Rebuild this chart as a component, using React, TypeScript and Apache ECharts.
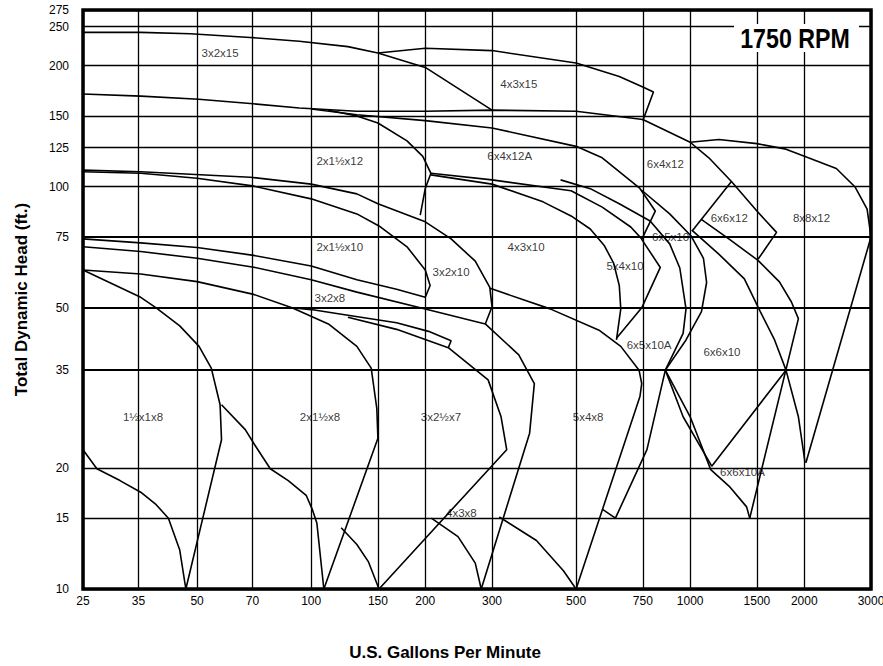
import React, { useEffect, useRef } from "react";
import * as echarts from "echarts";

// Axis ticks (tick labels as printed on the chart)
const X_TICKS = [25, 35, 50, 70, 100, 150, 200, 300, 500, 750, 1000, 1500, 2000, 3000];
const Y_TICKS = [10, 15, 20, 35, 50, 75, 100, 125, 150, 200, 250, 275];
const BOLD_Y = [35, 50, 75];

// Curves: [U.S. gallons per minute, total dynamic head (ft)]
const C_3X2X15 = [[25, 242], [35.5, 242], [48, 240], [69, 235], [93, 230], [125, 223], [150, 215], [200, 198], [300, 155]];
const C_4X3X15 = [[150, 215], [200, 221], [300, 218], [500, 203], [650, 188], [750, 177], [800, 172], [750, 146]];
const C_TOP = [[25, 170], [35.5, 168], [50.5, 165], [69, 161], [93, 157], [132, 154], [200, 154], [300, 155], [500, 154], [750, 147], [1000, 129], [1120, 118], [1285, 103], [1500, 87], [1690, 77], [1510, 66]];
const C_2X15X12_EDGE = [[111, 155], [132, 150], [150, 144], [179, 130], [197, 119], [207, 108], [200, 99], [194, 85]];
const C_6X4X12A = [[100, 156], [132, 151], [200, 146], [300, 140], [500, 126], [586, 118], [737, 99], [809, 87], [745, 74], [834, 63], [745, 50], [639, 42]];
const C_8X8X12_TOP = [[1000, 129], [1190, 131], [1500, 128], [1790, 124], [2050, 118], [2430, 111], [2720, 100], [2930, 88], [3000, 75]];
const C_8X8X12_RIGHT = [[3000, 75], [2020, 20.6]];
const C_8X8X12_LEFT = [[1010, 78], [1190, 68], [1390, 59], [1530, 49], [1670, 41.6], [1790, 35], [1930, 26.8], [2010, 20.6]];
const C_6X6X10_TOP = [[1070, 83], [1270, 74], [1510, 65.6], [1720, 58], [1850, 51.7], [1930, 47], [1436, 15]];
const C_6X6X12_LEFT = [[1285, 103], [1012, 77.6]];
const C_4X3X10_TOP = [[207, 108], [300, 104], [485, 97.7], [586, 89], [697, 79.4], [745, 74.2]];
const C_5X4X10_LEFT = [[207, 107], [300, 101.5], [409, 91.7], [485, 84.6], [545, 78.5], [594, 71.3], [628, 64.6], [650, 56.8], [656, 49.7], [639, 41.6]];
const C_3X2X10_TOP = [[25, 110], [35.5, 109], [69, 105.6], [100, 101.5], [132, 96], [150, 90.7], [200, 81.8], [234, 74.2], [271, 65.3], [296, 56.2], [300, 50.3], [288, 45.6]];
const C_2X15X10_TOP = [[25, 109], [35.5, 108], [50, 105], [70, 100.5], [100, 93.3], [132, 85.6], [151, 79.9], [179, 70.9], [200, 62.1], [206, 56.8], [200, 53.1]];
const C_2X15X10_LOW = [[25, 74.2], [35.5, 72.5], [50, 70.6], [70.5, 67.5], [100, 63.5], [132, 58.7], [168, 55.6], [200, 53.1]];
const C_3X2X10_LOW = [[25, 70.9], [35.5, 69], [50, 66.4], [70.5, 63.1], [100, 58.7], [132, 54.7], [194, 50], [288, 45.6], [353, 38.2], [388, 32.4], [377, 24.4], [281, 10]];
const C_2X15X8_TOP = [[25, 62.1], [35.5, 60.7], [50, 58.1], [70.5, 54], [89, 50], [111, 45.6], [132, 40.1], [144, 35.4], [149, 28.1], [150, 23.7], [108, 10]];
const C_3X2X8 = [[89, 50], [100, 49.5], [125, 47.9], [168, 45.9], [204, 43.7], [234, 41.4], [230, 39.8]];
const C_3X25X7_TOP = [[125, 47.4], [168, 44.2], [230, 39.8], [293, 33.1], [317, 26.8], [328, 22.2], [151, 10]];
const C_3X25X7_LOW = [[120, 14.2], [132, 12.9], [141.5, 11.7], [151, 10]];
const C_2X15X8_LOW = [[58, 28.7], [67, 24.9], [71, 22.8], [78, 19.9], [87, 18.6], [97, 17.1], [100.6, 15.8], [103.5, 14.6], [108, 10]];
const C_15X1X8_TOP = [[25, 62.1], [35.5, 53.1], [39, 50], [45, 45.1], [50.6, 40.1], [54.5, 35.4], [57.5, 28.7], [58, 23.5], [46.7, 10]];
const C_15X1X8_LOW = [[25, 22.2], [27.2, 19.9], [31.3, 18.6], [35.5, 17.4], [39, 16.2], [42, 15], [45, 12.5], [46.7, 10]];
const C_4X3X8_LOW = [[207.5, 15], [244, 13.5], [271, 11.6], [281, 10]];
const C_5X4X8_LOW = [[313.5, 15.1], [393, 13.2], [463, 11.1], [500, 10]];
const C_5X4X8_TOP = [[296.5, 55.9], [427, 49.7], [577, 43.9], [656, 40.1], [733, 35], [745, 32.4], [737, 30.1], [500, 10]];
const C_6X5X10A_BASE = [[586, 15.8], [635, 15]];
const C_6X5X10_RIGHT = [[455, 104], [545, 98.9], [650, 90.7], [784, 82.2], [883, 72.1], [939, 62.8], [975, 49.7], [958, 43.2], [860, 35], [769, 22.2], [635, 15]];
const C_6X6X10_LEFT = [[745, 98], [883, 85.6], [1006, 75.4], [1084, 66.4], [1105, 57.8], [1071, 48.9], [975, 41.6], [860, 35], [958, 26.8], [1140, 20.2], [1790, 35]];
const C_6X6X10A_LEFT = [[860, 35], [1000, 26.8], [1133, 19.8], [1268, 18], [1409, 16], [1436, 15]];

const CURVES: [string, number[][]][] = [
  ["3x2x15", C_3X2X15], ["4x3x15", C_4X3X15], ["top", C_TOP], ["2x1.5x12 edge", C_2X15X12_EDGE],
  ["6x4x12A", C_6X4X12A], ["8x8x12 top", C_8X8X12_TOP], ["8x8x12 right", C_8X8X12_RIGHT],
  ["8x8x12 left", C_8X8X12_LEFT], ["6x6x10 top", C_6X6X10_TOP], ["6x6x12 left", C_6X6X12_LEFT],
  ["4x3x10 top", C_4X3X10_TOP], ["5x4x10 left", C_5X4X10_LEFT], ["3x2x10 top", C_3X2X10_TOP],
  ["2x1.5x10 top", C_2X15X10_TOP], ["2x1.5x10 low", C_2X15X10_LOW], ["3x2x10 low", C_3X2X10_LOW],
  ["2x1.5x8 top", C_2X15X8_TOP], ["3x2x8", C_3X2X8], ["3x2.5x7 top", C_3X25X7_TOP],
  ["3x2.5x7 low", C_3X25X7_LOW], ["2x1.5x8 low", C_2X15X8_LOW], ["1.5x1x8 top", C_15X1X8_TOP],
  ["1.5x1x8 low", C_15X1X8_LOW], ["4x3x8 low", C_4X3X8_LOW], ["5x4x8 low", C_5X4X8_LOW],
  ["5x4x8 top", C_5X4X8_TOP], ["6x5x10A base", C_6X5X10A_BASE], ["6x5x10 right", C_6X5X10_RIGHT],
  ["6x6x10 left", C_6X6X10_LEFT], ["6x6x10A left", C_6X6X10A_LEFT],
];

// Pump size labels
const LABEL_TEXT = ["3x2x15", "4x3x15", "6x4x12A", "6x4x12", "2x1½x12", "6x6x12", "8x8x12", "2x1½x10", "3x2x10", "4x3x10", "5x4x10", "6x5x10", "3x2x8", "6x5x10A", "6x6x10", "1½x1x8", "2x1½x8", "3x2½x7", "5x4x8", "6x6x10A", "4x3x8"];
const LABEL_GPM = [57.5, 353, 334, 860, 119, 1268, 2090, 119, 234, 369, 673, 888, 112, 779, 1213, 36, 105.5, 220, 538, 1374, 249];
const LABEL_HEAD = [215, 180, 119.5, 114, 116, 83.7, 83.7, 70.9, 61.4, 70.9, 63.5, 75, 52.9, 40.5, 38.8, 26.8, 26.8, 26.8, 26.8, 19.5, 15.45];

const SPEED_TEXT = "1750 RPM";

const SANS = '"Liberation Sans", Arial, sans-serif';

export default function App() {
  const ref = useRef<HTMLDivElement>(null);
  useEffect(() => {
    if (!ref.current) return;
    const chart = echarts.init(ref.current, undefined, { renderer: "svg" });
    const gridLines: any[] = [
      ...X_TICKS.map((v) => ({ name: String(v), xAxis: v, label: { position: "start", distance: 6 } })),
      ...Y_TICKS.map((v) => ({
        name: String(v),
        yAxis: v,
        label: { position: "start", distance: 14 },
        lineStyle: { width: BOLD_Y.includes(v) ? 2 : 1.3 },
      })),
    ];
    const curveSeries = CURVES.map(([name, pts]) => ({
      type: "line",
      name,
      data: pts,
      showSymbol: false,
      symbol: "none",
      silent: true,
      z: 3,
      lineStyle: { color: "#000", width: 1.6 },
      emphasis: { disabled: true },
    }));
    chart.setOption({
      animation: false,
      backgroundColor: "#fff",
      graphic: [
        {
          type: "rect",
          z: 100,
          silent: true,
          shape: { x: 734, y: 24, width: 125, height: 28 },
          style: { fill: "#fff" },
        },
        {
          type: "text",
          z: 101,
          silent: true,
          x: 795,
          y: 38,
          scaleX: 0.86,
          style: {
            text: SPEED_TEXT,
            fill: "#000",
            font: 'bold 27px "Liberation Sans", Arial, sans-serif',
            textAlign: "center",
            textVerticalAlign: "middle",
          },
        },
      ],
      grid: { left: 83, top: 10, width: 788, height: 579, show: true, borderColor: "#000", borderWidth: 3.5 },
      xAxis: {
        type: "log",
        logBase: 10,
        min: 25,
        max: 3000,
        axisLine: { show: false },
        axisTick: { show: false },
        axisLabel: { show: false },
        splitLine: { show: false },
        name: "U.S. Gallons Per Minute",
        nameLocation: "middle",
        nameGap: 55,
        nameTextStyle: { fontFamily: SANS, fontWeight: "bold", fontSize: 17, color: "#000", padding: [0, 64, 0, 0] },
      },
      yAxis: {
        type: "log",
        logBase: 10,
        min: 10,
        max: 275,
        axisLine: { show: false },
        axisTick: { show: false },
        axisLabel: { show: false },
        splitLine: { show: false },
        name: "Total Dynamic Head (ft.)",
        nameLocation: "middle",
        nameGap: 53,
        nameTextStyle: { fontFamily: SANS, fontWeight: "bold", fontSize: 17, color: "#000" },
      },
      series: [
        {
          type: "line",
          name: "grid",
          data: [],
          silent: true,
          z: 1,
          markLine: {
            silent: true,
            animation: false,
            symbol: ["none", "none"],
            lineStyle: { color: "#000", width: 1.3, type: "solid" },
            label: { formatter: "{b}", color: "#000", fontFamily: SANS, fontSize: 12 },
            emphasis: { disabled: true },
            data: gridLines,
          },
        },
        ...curveSeries,
        {
          type: "scatter",
          name: "labels",
          data: LABEL_TEXT.map((t, i) => [LABEL_GPM[i], LABEL_HEAD[i], t]),
          symbolSize: 1,
          itemStyle: { color: "rgba(0,0,0,0)" },
          silent: true,
          z: 5,
          label: {
            show: true,
            position: "inside",
            formatter: (p: any) => p.value[2],
            color: "#000",
            fontFamily: SANS,
            fontSize: 11.5,
          },
          emphasis: { disabled: true },
        },
      ],
    });
    return () => chart.dispose();
  }, []);
  return (
    <div
      ref={ref}
      style={{ position: "fixed", left: 0, top: 0, width: 883, height: 666, background: "#fff" }}
    />
  );
}
